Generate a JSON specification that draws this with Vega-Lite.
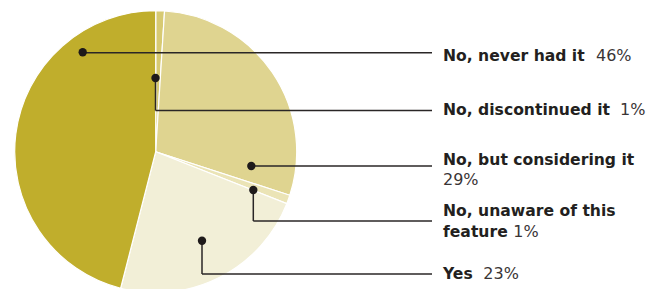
{
  "$schema": "https://vega.github.io/schema/vega-lite/v6.json",
  "width": 663,
  "height": 289,
  "padding": 0,
  "autosize": {"type": "none"},
  "background": "white",
  "config": {"view": {"stroke": null}},
  "datasets": {
    "slices": [
      {"category": "No, discontinued it", "value": 1, "seq": 1},
      {"category": "No, but considering it", "value": 29, "seq": 2},
      {"category": "No, unaware of this feature", "value": 1, "seq": 3},
      {"category": "Yes", "value": 23, "seq": 4},
      {"category": "No, never had it", "value": 46, "seq": 5}
    ],
    "callouts": [
      {"category": "No, never had it", "dotX": 82.7, "dotY": 52.3, "elbowY": 52.8},
      {"category": "No, discontinued it", "dotX": 155.5, "dotY": 78, "elbowY": 110.5},
      {"category": "No, but considering it", "dotX": 251.3, "dotY": 166, "elbowY": 166},
      {"category": "No, unaware of this feature", "dotX": 253.3, "dotY": 190, "elbowY": 221},
      {"category": "Yes", "dotX": 202, "dotY": 240.7, "elbowY": 274}
    ],
    "labels": [
      {"text": "No, never had it", "kind": "name", "x": 443, "y": 60.7},
      {"text": "46%", "kind": "pct", "x": 596, "y": 60.7},
      {"text": "No, discontinued it", "kind": "name", "x": 443, "y": 115},
      {"text": "1%", "kind": "pct", "x": 620, "y": 115},
      {"text": "No, but considering it", "kind": "name", "x": 443, "y": 165.3},
      {"text": "29%", "kind": "pct", "x": 443, "y": 184.5},
      {"text": "No, unaware of this", "kind": "name", "x": 443, "y": 215.7},
      {"text": "feature", "kind": "name", "x": 443, "y": 237.3},
      {"text": "1%", "kind": "pct", "x": 513.3, "y": 237.3},
      {"text": "Yes", "kind": "name", "x": 443, "y": 279.3},
      {"text": "23%", "kind": "pct", "x": 483.3, "y": 279.3}
    ]
  },
  "layer": [
    {
      "data": {"name": "slices"},
      "mark": {"type": "arc", "outerRadius": 141, "stroke": "white", "strokeWidth": 1.2},
      "encoding": {
        "x": {"datum": 155.7, "type": "quantitative", "scale": {"domain": [0, 663], "range": [0, 663], "nice": false, "zero": false}, "axis": null},
        "y": {"datum": 151.7, "type": "quantitative", "scale": {"domain": [0, 289], "range": [0, 289], "nice": false, "zero": false}, "axis": null},
        "theta": {"field": "value", "type": "quantitative", "stack": true},
        "order": {"field": "seq", "type": "quantitative"},
        "color": {
          "field": "category",
          "type": "nominal",
          "legend": null,
          "scale": {
            "domain": ["No, discontinued it", "No, but considering it", "No, unaware of this feature", "Yes", "No, never had it"],
            "range": ["#d7ca72", "#dfd490", "#ebe4b6", "#f2efd7", "#c0ae2c"]
          }
        }
      }
    },
    {
      "data": {"name": "callouts"},
      "mark": {"type": "rule", "color": "#2a2626", "strokeWidth": 1.5},
      "encoding": {
        "x": {"field": "dotX", "type": "quantitative"},
        "y": {"field": "dotY", "type": "quantitative"},
        "y2": {"field": "elbowY"}
      }
    },
    {
      "data": {"name": "callouts"},
      "mark": {"type": "rule", "color": "#2a2626", "strokeWidth": 1.5},
      "encoding": {
        "x": {"field": "dotX", "type": "quantitative"},
        "x2": {"datum": 432},
        "y": {"field": "elbowY", "type": "quantitative"}
      }
    },
    {
      "data": {"name": "callouts"},
      "mark": {"type": "point", "filled": true, "color": "#1e1a1a", "size": 70, "opacity": 1},
      "encoding": {
        "x": {"field": "dotX", "type": "quantitative"},
        "y": {"field": "dotY", "type": "quantitative"}
      }
    },
    {
      "data": {"name": "labels"},
      "transform": [{"filter": "datum.kind === 'name'"}],
      "mark": {"type": "text", "align": "left", "baseline": "alphabetic", "font": "DejaVu Sans", "fontSize": 15.6, "fontWeight": "bold", "color": "#231f20"},
      "encoding": {
        "x": {"field": "x", "type": "quantitative"},
        "y": {"field": "y", "type": "quantitative"},
        "text": {"field": "text"}
      }
    },
    {
      "data": {"name": "labels"},
      "transform": [{"filter": "datum.kind === 'pct'"}],
      "mark": {"type": "text", "align": "left", "baseline": "alphabetic", "font": "DejaVu Sans", "fontSize": 16, "fontWeight": "normal", "color": "#3a3536"},
      "encoding": {
        "x": {"field": "x", "type": "quantitative"},
        "y": {"field": "y", "type": "quantitative"},
        "text": {"field": "text"}
      }
    }
  ]
}
